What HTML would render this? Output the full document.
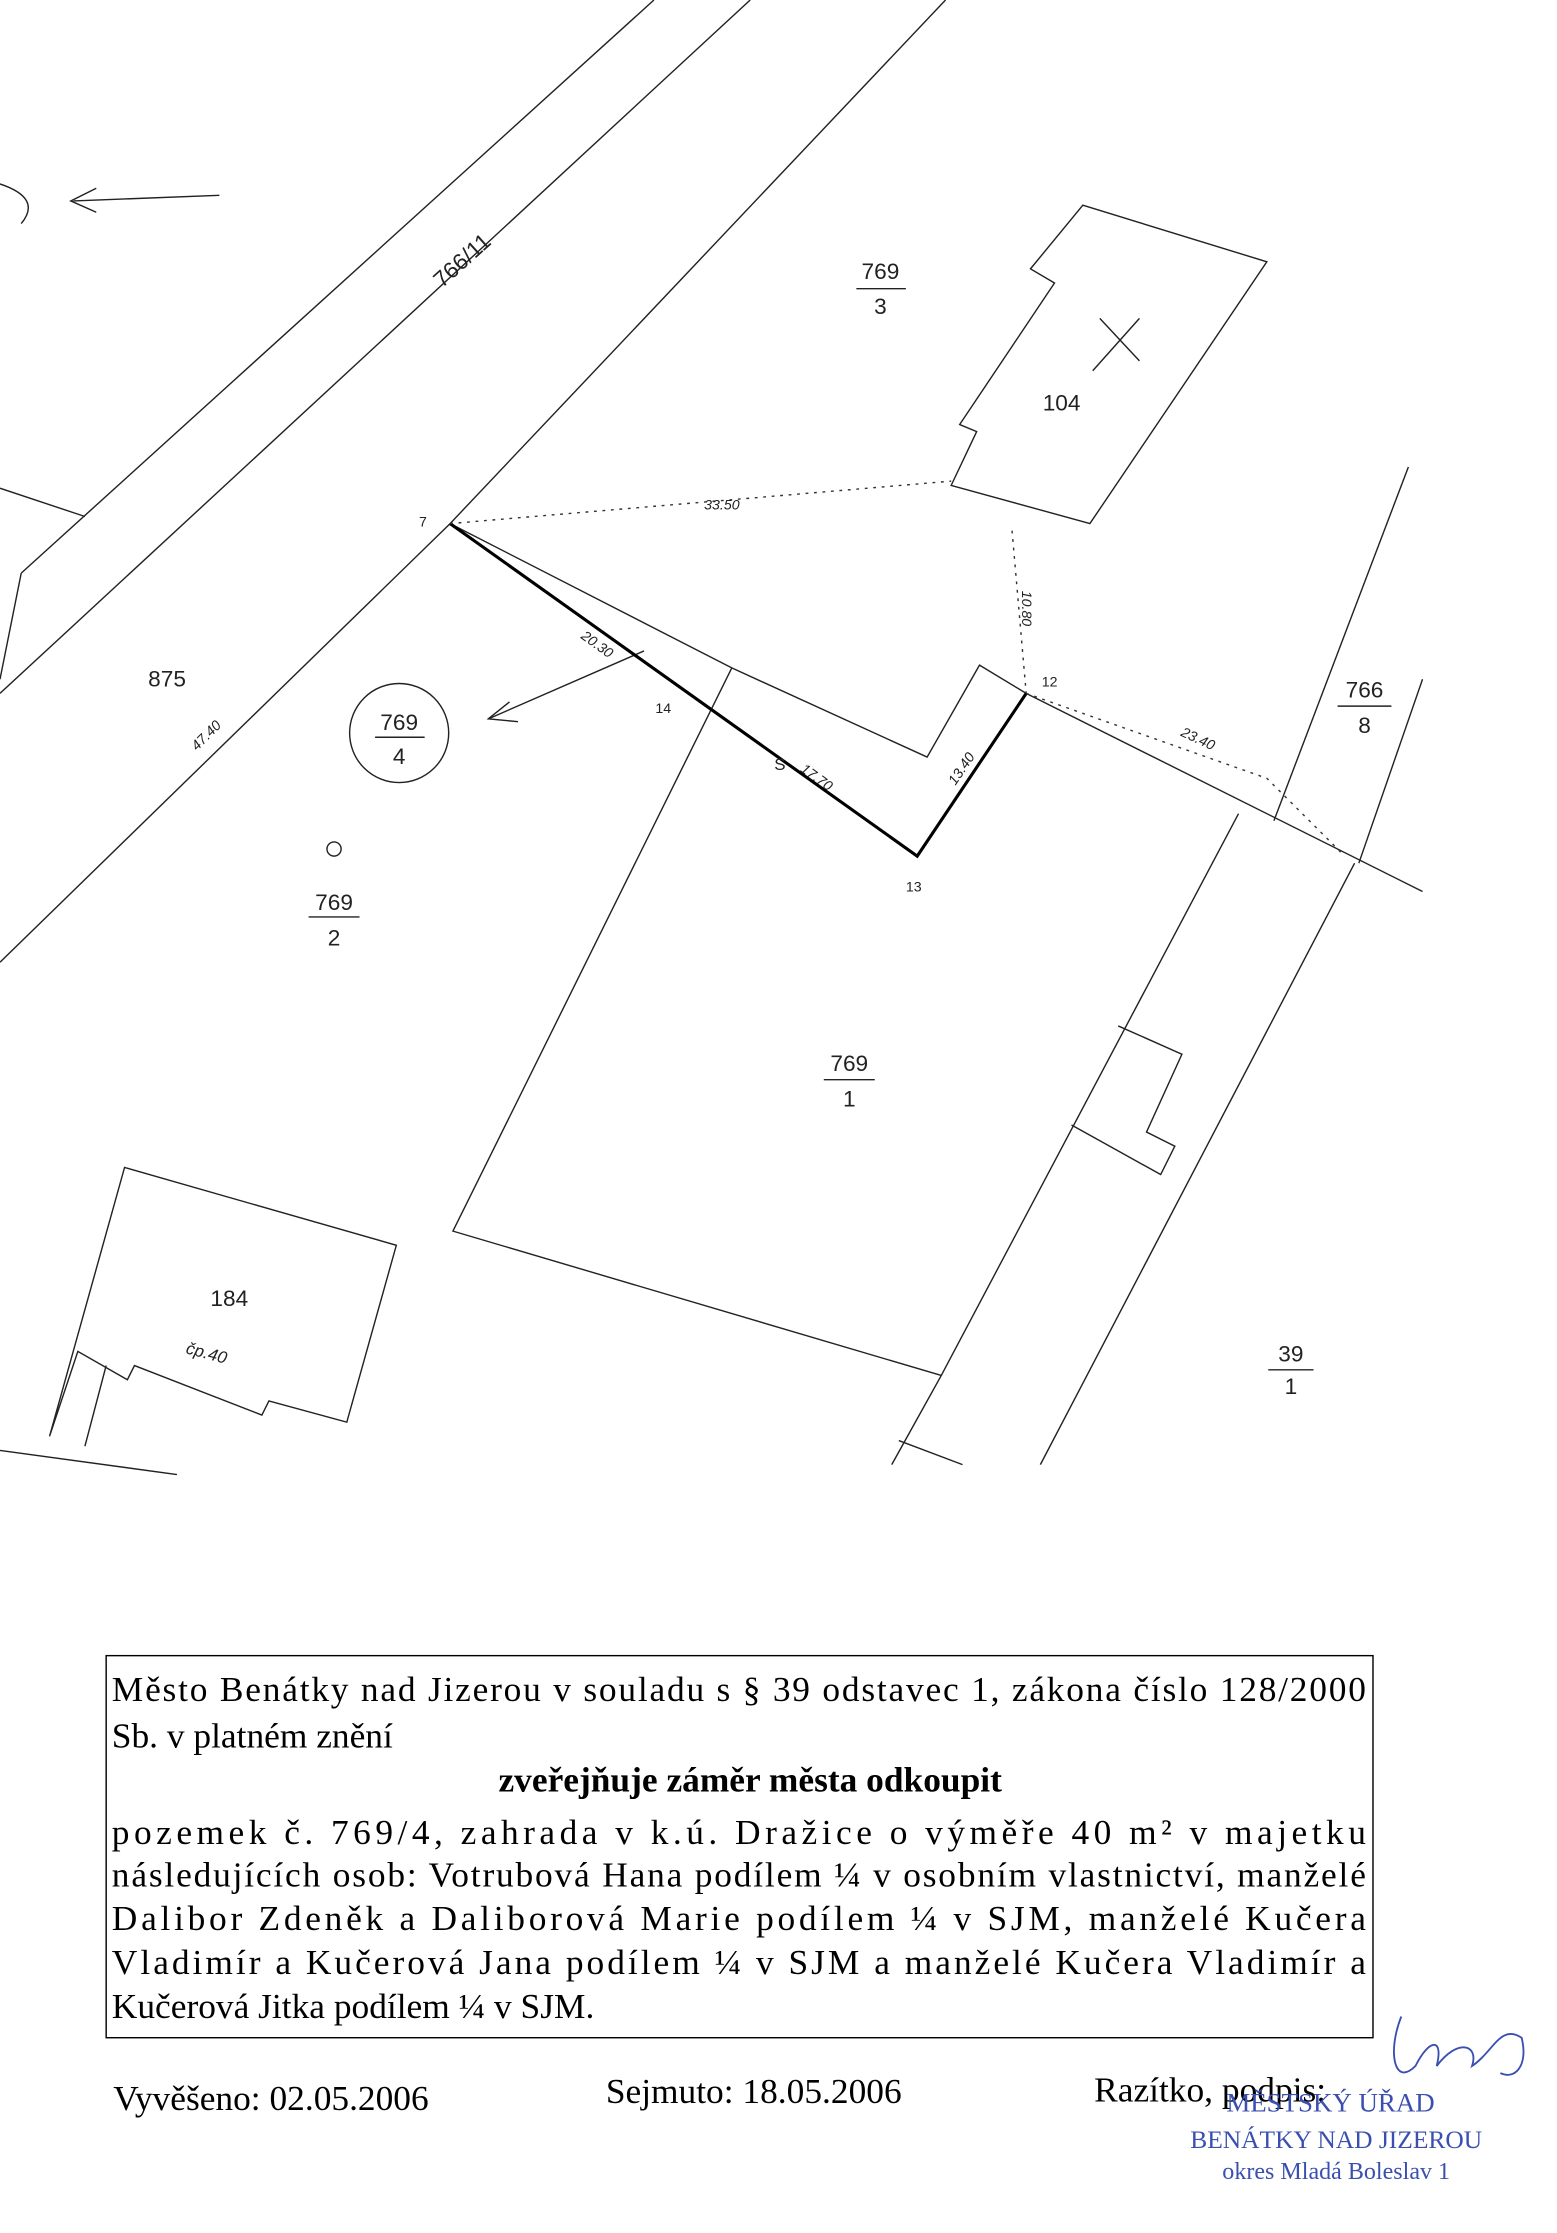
<!DOCTYPE html>
<html><head><meta charset="utf-8"><style>
html,body{margin:0;padding:0;background:#fff;}
svg{display:block}
</style></head><body>
<svg width="1557" height="2233" viewBox="0 0 1100 1578" preserveAspectRatio="none" xmlns="http://www.w3.org/2000/svg">
<rect width="1100" height="1578" fill="#fff"/>
<g stroke="#222" stroke-width="1" fill="none">
<line x1="462" y1="0" x2="15" y2="405"/>
<line x1="530" y1="0" x2="0" y2="490"/>
<polyline points="668,0 318,370 0,680"/>
<line x1="0" y1="345" x2="60" y2="365"/>
<line x1="15" y1="405" x2="0" y2="480"/>
<path d="M0,130 Q30,140 15,158"/>
<line x1="155" y1="138" x2="52" y2="142"/>
<polyline points="68,133 50,142 68,150"/>
<polygon points="765,145 895,185 770,370 672,343 690,305 678,300 745,200 728,190"/>
<line x1="772" y1="262" x2="805" y2="225"/>
<line x1="777" y1="225" x2="805" y2="255"/>
<polyline points="318,370 517,472 655,535 692,470 725,490 1005,630"/>
<polyline points="517,472 320,870 665,972 630,1035"/>
<line x1="875" y1="575" x2="665" y2="972"/>
<line x1="957" y1="610" x2="735" y2="1035"/>
<line x1="995" y1="330" x2="900" y2="580"/>
<line x1="1005" y1="480" x2="960" y2="610"/>
<polyline points="790,725 835,745 810,800 830,810 820,830 757,795"/>
<line x1="635" y1="1018" x2="680" y2="1035"/>
<polygon points="88,825 280,880 245,1005 190,990 185,1000 95,965 90,975 55,955 35,1015"/>
<line x1="75" y1="965" x2="60" y2="1022"/>
<line x1="0" y1="1025" x2="125" y2="1042"/>
<circle cx="282" cy="518" r="35"/>
<line x1="455" y1="460" x2="345" y2="508"/>
<polyline points="360,496 345,508 366,510"/>
<circle cx="236" cy="600" r="5"/>
</g>
<polyline points="318,370 648,605 725,490" stroke="#000" stroke-width="2.2" fill="none"/>
<g stroke="#333" stroke-width="1" stroke-dasharray="2,4" fill="none">
<line x1="318" y1="370" x2="672" y2="340"/>
<line x1="715" y1="375" x2="725" y2="490"/>
<polyline points="725,490 895,550 950,605"/>
</g>
<g font-family="Liberation Sans, sans-serif" font-size="16" fill="#222" text-anchor="middle">
<text x="622" y="197">769</text><line x1="605" y1="204" x2="640" y2="204" stroke="#222"/><text x="622" y="222">3</text>
<text x="750" y="290">104</text>
<text x="118" y="485">875</text>
<text x="282" y="516">769</text><line x1="265" y1="521" x2="300" y2="521" stroke="#222"/><text x="282" y="540">4</text>
<text x="236" y="643">769</text><line x1="218" y1="648" x2="254" y2="648" stroke="#222"/><text x="236" y="668">2</text>
<text x="600" y="757">769</text><line x1="582" y1="763" x2="618" y2="763" stroke="#222"/><text x="600" y="782">1</text>
<text x="964" y="493">766</text><line x1="945" y1="499" x2="983" y2="499" stroke="#222"/><text x="964" y="518">8</text>
<text x="912" y="962">39</text><line x1="896" y1="968" x2="928" y2="968" stroke="#222"/><text x="912" y="985">1</text>
<text x="162" y="923">184</text>
<text x="330" y="188" transform="rotate(-42 330 188)">766/11</text>
</g>
<g font-family="Liberation Sans, sans-serif" font-size="10" fill="#222" font-style="italic" text-anchor="middle">
<text x="510" y="360">33.50</text>
<text x="722" y="430" transform="rotate(90 722 430)">10.80</text>
<text x="845" y="525" transform="rotate(25 845 525)">23.40</text>
<text x="420" y="458" transform="rotate(36 420 458)">20.30</text>
<text x="575" y="552" transform="rotate(36 575 552)">17.70</text>
<text x="682" y="545" transform="rotate(-56 682 545)">13.40</text>
<text x="148" y="522" transform="rotate(-45 148 522)">47.40</text>
<text x="145" y="960" transform="rotate(15 145 960)" font-size="12">čp.40</text>
</g>
<g font-family="Liberation Sans, sans-serif" font-size="10" fill="#222">
<text x="296" y="372">7</text><text x="736" y="485">12</text><text x="463" y="504">14</text><text x="640" y="630">13</text>
<text x="547" y="544" font-size="12">S</text>
</g>
<rect x="75" y="1170" width="895" height="270" fill="none" stroke="#000" stroke-width="1"/>
<g font-family="Liberation Serif, serif" font-size="25" fill="#000">
<text x="79" y="1202" textLength="886" lengthAdjust="spacing">Město Benátky nad Jizerou v souladu s § 39 odstavec 1, zákona číslo 128/2000</text>
<text x="79" y="1235">Sb. v platném znění</text>
<text x="530" y="1266" text-anchor="middle" font-weight="bold">zveřejňuje záměr města odkoupit</text>
<text x="79" y="1303" textLength="886" lengthAdjust="spacing">pozemek č. 769/4, zahrada v k.ú. Dražice o výměře 40 m² v majetku</text>
<text x="79" y="1333" textLength="886" lengthAdjust="spacing">následujících osob: Votrubová Hana podílem ¼ v osobním vlastnictví, manželé</text>
<text x="79" y="1364" textLength="886" lengthAdjust="spacing">Dalibor Zdeněk a Daliborová Marie podílem ¼ v SJM, manželé Kučera</text>
<text x="79" y="1395" textLength="886" lengthAdjust="spacing">Vladimír a Kučerová Jana podílem ¼ v SJM a manželé Kučera Vladimír a</text>
<text x="79" y="1426">Kučerová Jitka podílem ¼ v SJM.</text>
<text x="80" y="1491">Vyvěšeno: 02.05.2006</text>
<text x="428" y="1486">Sejmuto: 18.05.2006</text>
<text x="773" y="1485">Razítko, podpis:</text>
</g>
<g font-family="Liberation Serif, serif" fill="#3a4fb0" text-anchor="middle">
<text x="940" y="1492" font-size="19">MĚSTSKÝ ÚŘAD</text>
<text x="944" y="1518" font-size="18">BENÁTKY NAD JIZEROU</text>
<text x="944" y="1540" font-size="17">okres Mladá Boleslav 1</text>
</g>
<path d="M990,1425 C980,1450 985,1475 1000,1460 C1010,1440 1020,1440 1015,1460 C1030,1440 1045,1445 1040,1460 C1055,1450 1060,1430 1075,1440 C1080,1460 1070,1470 1060,1465" stroke="#3a4fb0" stroke-width="1.3" fill="none"/>
</svg>
</body></html>
